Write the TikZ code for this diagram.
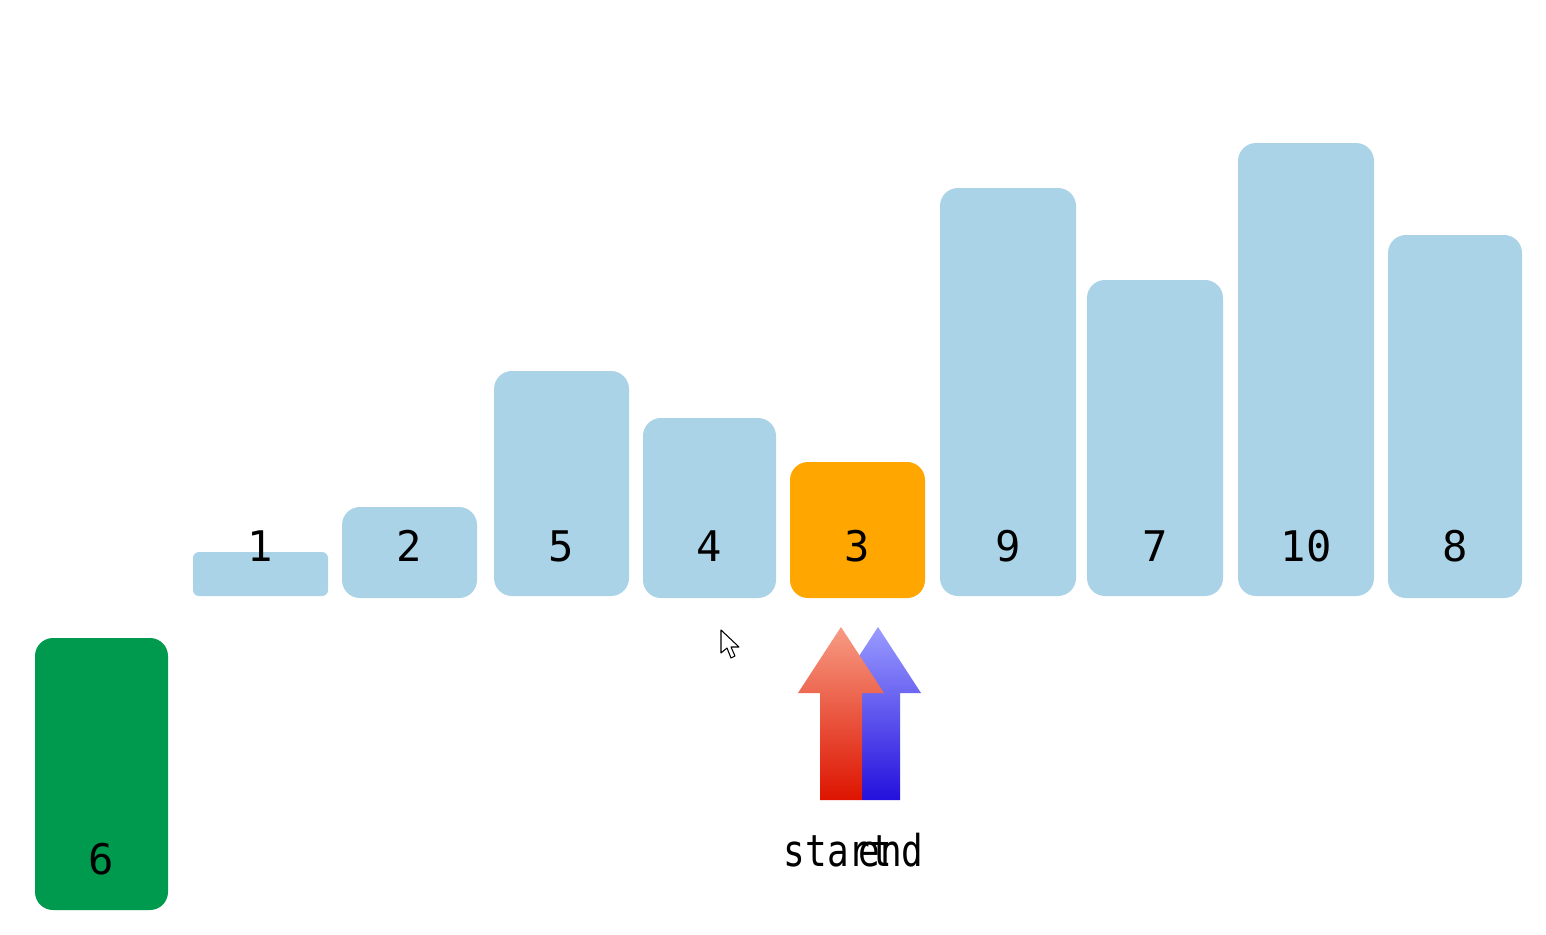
\documentclass[tikz,border=0pt]{standalone}
\usepackage{fontspec}
\setmonofont{DejaVu Sans Mono}
\usetikzlibrary{fit}
\definecolor{barblue}{HTML}{ABD3E7}
\definecolor{barorange}{HTML}{FFA600}
\definecolor{bargreen}{HTML}{009A4E}
\definecolor{redtop}{HTML}{F79C84}
\definecolor{redbot}{HTML}{DD1400}
\definecolor{bluetop}{HTML}{9A9CFF}
\definecolor{bluebot}{HTML}{2410DC}
\tikzset{
  bar/.style={inner sep=0pt, draw=none, rounded corners=0.36cm},
  num/.style={font=\ttfamily\fontsize{24}{24}\selectfont, inner sep=0pt, anchor=center},
  ptrlabel/.style={font=\ttfamily\fontsize{25}{25}\selectfont, inner sep=0pt, anchor=base, xscale=0.82},
}
\begin{document}
\begin{tikzpicture}[x=0.02cm,y=-0.02cm]
\useasboundingbox[fill=white] (0,0) rectangle (1546,934);
% bars
\node[bar, fill=barblue, fit={(193,552)(328,596)}, rounded corners=0.12cm] (b1) {};
\node[bar, fill=barblue, fit={(342,507)(477,598)}] (b2) {};
\node[bar, fill=barblue, fit={(494,371)(629,596)}] (b3) {};
\node[bar, fill=barblue, fit={(643,418)(776,598)}] (b4) {};
\node[bar, fill=barorange, fit={(790,462)(925,598)}] (b5) {};
\node[bar, fill=barblue, fit={(940,188)(1076,596)}] (b6) {};
\node[bar, fill=barblue, fit={(1087,280)(1223,596)}] (b7) {};
\node[bar, fill=barblue, fit={(1238,143)(1374,596)}] (b8) {};
\node[bar, fill=barblue, fit={(1388,235)(1522,598)}] (b9) {};
\node[bar, fill=bargreen, fit={(35,638)(168,910)}] (piv) {};
% labels
\node[num] (l1) at (b1.center |- 0,546) {1};
\node[num] (l2) at (b2.center |- 0,546) {2};
\node[num] (l3) at (b3.center |- 0,546) {5};
\node[num] (l4) at (b4.center |- 0,546) {4};
\node[num] (l5) at (b5.center |- 0,546) {3};
\node[num] (l6) at (b6.center |- 0,546) {9};
\node[num] (l7) at (b7.center |- 0,546) {7};
\node[num] (l8) at (b8.center |- 0,546) {10};
\node[num] (l9) at (b9.center |- 0,546) {8};
\node[num] (lp) at (piv.center |- 0,859) {6};
% end pointer (blue, behind)
\shade[top color=bluetop, bottom color=bluebot]
  (878,627) -- (921,693) -- (900,693) -- (900,800) -- (862,800) -- (862,693) -- (835,693) -- cycle;
% start pointer (red)
\shade[top color=redtop, bottom color=redbot]
  (841,627) -- (884,693) -- (862,693) -- (862,800) -- (820,800) -- (820,693) -- (798,693) -- cycle;
% pointer labels
\node[ptrlabel] (startlbl) at (838,866) {start};
\node[ptrlabel] (endlbl) at (891,866) {end};
% mouse cursor
\draw[fill=white, line width=0.6pt, line join=round]
  (721,630) -- (721,653) -- (727,648) -- (731,658) -- (735,656) -- (731,647) -- (739,647) -- cycle;
\end{tikzpicture}
\end{document}
